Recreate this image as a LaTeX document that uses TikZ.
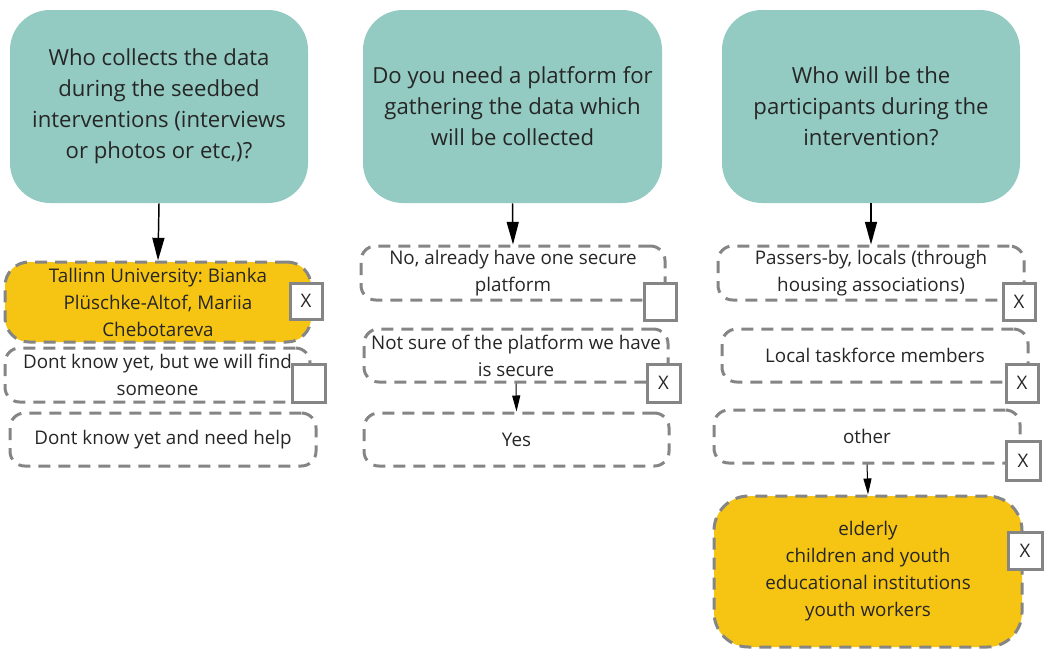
\documentclass[tikz,border=0pt]{standalone}
\usepackage{fontspec}
\setmainfont{Open Sans}
\usetikzlibrary{arrows.meta}
\frenchspacing
\definecolor{tealq}{HTML}{93CBC2}
\definecolor{goldsel}{HTML}{F6C514}
\definecolor{dashgray}{HTML}{858585}
\definecolor{txt}{HTML}{262626}
\tikzset{
  q/.style={fill=tealq, rounded corners=30pt, inner sep=0pt, align=center,
    font=\fontsize{16.6}{23.25}\selectfont, text=txt},
  opt/.style={draw=dashgray, line width=2.25pt, dash pattern=on 9pt off 6pt,
    rounded corners=11pt, inner sep=0pt, align=center,
    font=\fontsize{14.1}{20.25}\selectfont, text=txt},
  sel/.style={opt, fill=goldsel},
  bigsel/.style={sel, rounded corners=26pt},
  cb/.style={draw=dashgray, line width=2.25pt, fill=white, inner sep=0pt,
    font=\fontsize{14}{16}\selectfont, text=txt},
  arr/.style={-{Triangle[length=17pt,width=9pt]}, line width=1.1pt, black},
  sarr/.style={-{Triangle[length=12pt,width=6pt]}, line width=0.75pt, black}
}
\newcommand\bx[7]{\node[#6, minimum width={(#4-#2)*0.75pt}, minimum height={(#5-#3)*0.75pt}] (#1) at ({(#2+#4)/2},{(#3+#5)/2}) {#7};}
\begin{document}
\begin{tikzpicture}[x=0.75pt,y=-0.75pt]
\useasboundingbox (0,0) rectangle (1048,653);
% questions
\bx{T1}{10}{10}{308}{203}{q}{Who collects the data\\during the seedbed\\interventions (interviews\\or photos or etc,)?}
\bx{T2}{363}{10}{662}{203}{q}{Do you need a platform for\\gathering the data which\\will be collected}
\bx{T3}{722}{10}{1020}{203}{q}{Who will be the\\participants during the\\intervention?}
% left column
\bx{L1}{5}{262}{311}{342}{sel, rounded corners=18pt}{Tallinn University: Bianka\\Plüschke-Altof, Mariia\\Chebotareva}
\bx{L2}{5}{348}{310}{402}{opt}{Dont know yet, but we will find\\someone}
\bx{L3}{10}{413}{316}{466}{opt}{Dont know yet and need help}
\bx{cL1}{290}{283}{322}{319}{cb}{X}
\bx{cL2}{292}{364}{325}{402}{cb}{}
% middle column
\bx{M1}{361}{246}{665}{300}{opt}{No, already have one secure\\platform}
\bx{M2}{364}{329}{668}{382}{opt}{Not sure of the platform we have\\is secure}
\bx{M3}{364}{413}{669}{466}{opt}{Yes}
\bx{cM1}{644}{283}{676}{320}{cb}{}
\bx{cM2}{647}{364}{680}{402}{cb}{X}
% right column
\bx{R1}{718}{246}{1024}{300}{opt}{Passers-by, locals (through\\housing associations)}
\bx{R2}{722}{329}{1028}{382}{opt}{Local taskforce members}
\bx{R3}{714}{410}{1020}{463}{opt}{other}
\bx{R4}{714}{496}{1022}{647}{bigsel}{elderly\\children and youth\\educational institutions\\youth workers}
\bx{cR1}{1003}{283}{1035}{320}{cb}{X}
\bx{cR2}{1006}{364}{1038}{402}{cb}{X}
\bx{cR3}{1006}{441}{1040}{480}{cb}{X}
\bx{cR4}{1008}{532}{1042}{569}{cb}{X}
% connectors
\draw[arr] (T1.south) -- (L1.north);
\draw[arr] (T2.south) -- (M1.north);
\draw[arr] (T3.south) -- (R1.north);
\draw[sarr] (M2.south) -- (M3.north);
\draw[sarr] (R3.south) -- (R4.north);
\end{tikzpicture}
\end{document}
